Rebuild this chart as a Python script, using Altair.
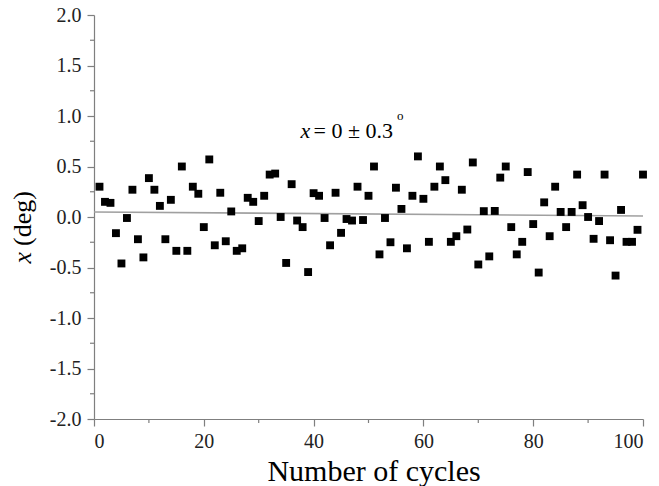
import altair as alt
import pandas as pd

cycles = list(range(1, 101))
angle_vals = [
    0.30, 0.15, 0.14, -0.16, -0.46, -0.01, 0.27, -0.22, -0.40, 0.385,
    0.27, 0.11, -0.22, 0.17, -0.335, 0.50, -0.335, 0.30, 0.23, -0.10,
    0.57, -0.28, 0.24, -0.24, 0.055, -0.335, -0.31, 0.19, 0.15, -0.04,
    0.21, 0.42, 0.43, 0.0, -0.455, 0.325, -0.035, -0.10, -0.545, 0.236,
    0.21, -0.01, -0.28, 0.24, -0.157, -0.02, -0.035, 0.30, -0.03, 0.21,
    0.50, -0.37, -0.01, -0.25, 0.29, 0.08, -0.31, 0.21, 0.60, 0.18,
    -0.246, 0.30, 0.50, 0.365, -0.246, -0.19, 0.27, -0.124, 0.54, -0.47,
    0.058, -0.39, 0.06, 0.39, 0.50, -0.10, -0.37, -0.246, 0.445, -0.07,
    -0.55, 0.145, -0.19, 0.30, 0.05, -0.10, 0.05, 0.42, 0.117, 0.0,
    -0.216, -0.04, 0.42, -0.23, -0.58, 0.07, -0.246, -0.246, -0.127, 0.42,
]
fit_x = [0, 100]
fit_y = [0.05, 0.01]
y_ticks = [-2.0, -1.5, -1.0, -0.5, 0.0, 0.5, 1.0, 1.5, 2.0]
x_ticks = [0, 20, 40, 60, 80, 100]
y_minor = [-1.75, -1.25, -0.75, -0.25, 0.25, 0.75, 1.25, 1.75]
x_minor = [10, 30, 50, 70, 90]

FONT = "Liberation Serif"
AX = "#7f7f7f"
LAB = "#222222"

W, H = 549, 404

xs = alt.Scale(domain=[0, 100], nice=False, zero=False)
ys = alt.Scale(domain=[-2, 2], nice=False, zero=False)

pts = pd.DataFrame({"n": cycles, "v": angle_vals})
fit = pd.DataFrame({"n": fit_x, "v": fit_y})

x_axis = alt.Axis(values=x_ticks, format="d", grid=False, domainColor=AX, tickColor=AX,
                  tickSize=7, labelFont=FONT, labelFontSize=20, labelColor=LAB,
                  labelPadding=5, title=None, domainWidth=1.2, tickWidth=1.2)
y_axis = alt.Axis(values=y_ticks, grid=False, domainColor=AX, tickColor=AX,
                  labelExpr="replace(format(datum.value, '.1f'), '\u2212', '-')",
                  tickSize=7, labelFont=FONT, labelFontSize=20, labelColor=LAB,
                  labelPadding=6, title=None, domainWidth=1.2, tickWidth=1.2)

points = alt.Chart(pts).mark_point(shape="square", filled=True, size=62, color="black", opacity=1).encode(
    x=alt.X("n:Q", scale=xs, axis=x_axis),
    y=alt.Y("v:Q", scale=ys, axis=y_axis),
)

line = alt.Chart(fit).mark_line(color="#a0a0a0", strokeWidth=1.6).encode(
    x=alt.X("n:Q", scale=xs), y=alt.Y("v:Q", scale=ys)
)

ymin = alt.Chart(pd.DataFrame({"v": y_minor})).mark_rule(color=AX, strokeWidth=1.2).encode(
    y=alt.Y("v:Q", scale=ys), x=alt.value(-4), x2=alt.value(0)
)
xmin = alt.Chart(pd.DataFrame({"n": x_minor})).mark_rule(color=AX, strokeWidth=1.2).encode(
    x=alt.X("n:Q", scale=xs), y=alt.value(H), y2=alt.value(H + 4)
)

ann_x = alt.Chart(pd.DataFrame({"n": [37.6], "v": [0.78], "t": ["x"]})).mark_text(
    font=FONT, fontSize=22, fontStyle="italic", align="left", baseline="alphabetic", color="black"
).encode(x=alt.X("n:Q", scale=xs), y=alt.Y("v:Q", scale=ys), text="t:N")
ann_main = alt.Chart(pd.DataFrame({"n": [40.0], "v": [0.78], "t": ["= 0 ± 0.3"]})).mark_text(
    font=FONT, fontSize=22, align="left", baseline="alphabetic", color="black"
).encode(x=alt.X("n:Q", scale=xs), y=alt.Y("v:Q", scale=ys), text="t:N")
ann_deg = alt.Chart(pd.DataFrame({"n": [55.2], "v": [0.965], "t": ["o"]})).mark_text(
    font=FONT, fontSize=13, align="left", baseline="alphabetic", color="black"
).encode(x=alt.X("n:Q", scale=xs), y=alt.Y("v:Q", scale=ys), text="t:N")

xtitle = alt.Chart(pd.DataFrame({"t": ["Number of cycles"]})).mark_text(
    font=FONT, fontSize=30, align="center", baseline="alphabetic", color="black"
).encode(x=alt.value(280), y=alt.value(466), text="t:N")
ytitle_x = alt.Chart(pd.DataFrame({"t": ["x"]})).mark_text(
    font=FONT, fontSize=26, fontStyle="italic", align="right", baseline="middle", angle=270, color="black"
).encode(x=alt.value(-71), y=alt.value(237), text="t:N")
ytitle_rest = alt.Chart(pd.DataFrame({"t": ["(deg)"]})).mark_text(
    font=FONT, fontSize=26, align="left", baseline="middle", angle=270, color="black"
).encode(x=alt.value(-71), y=alt.value(231), text="t:N")

chart = alt.layer(line, points, ymin, xmin, ann_x, ann_main, ann_deg, xtitle, ytitle_x, ytitle_rest).properties(
    width=W, height=H,
    padding={"left": 94, "top": 15, "right": 16, "bottom": 67},
    autosize=alt.AutoSizeParams(type="none"),
    background="white",
).configure_view(stroke=None).configure_axis(labelFont=FONT, titleFont=FONT)

chart.save("out.html", embed_options={"renderer": "svg", "actions": False})
